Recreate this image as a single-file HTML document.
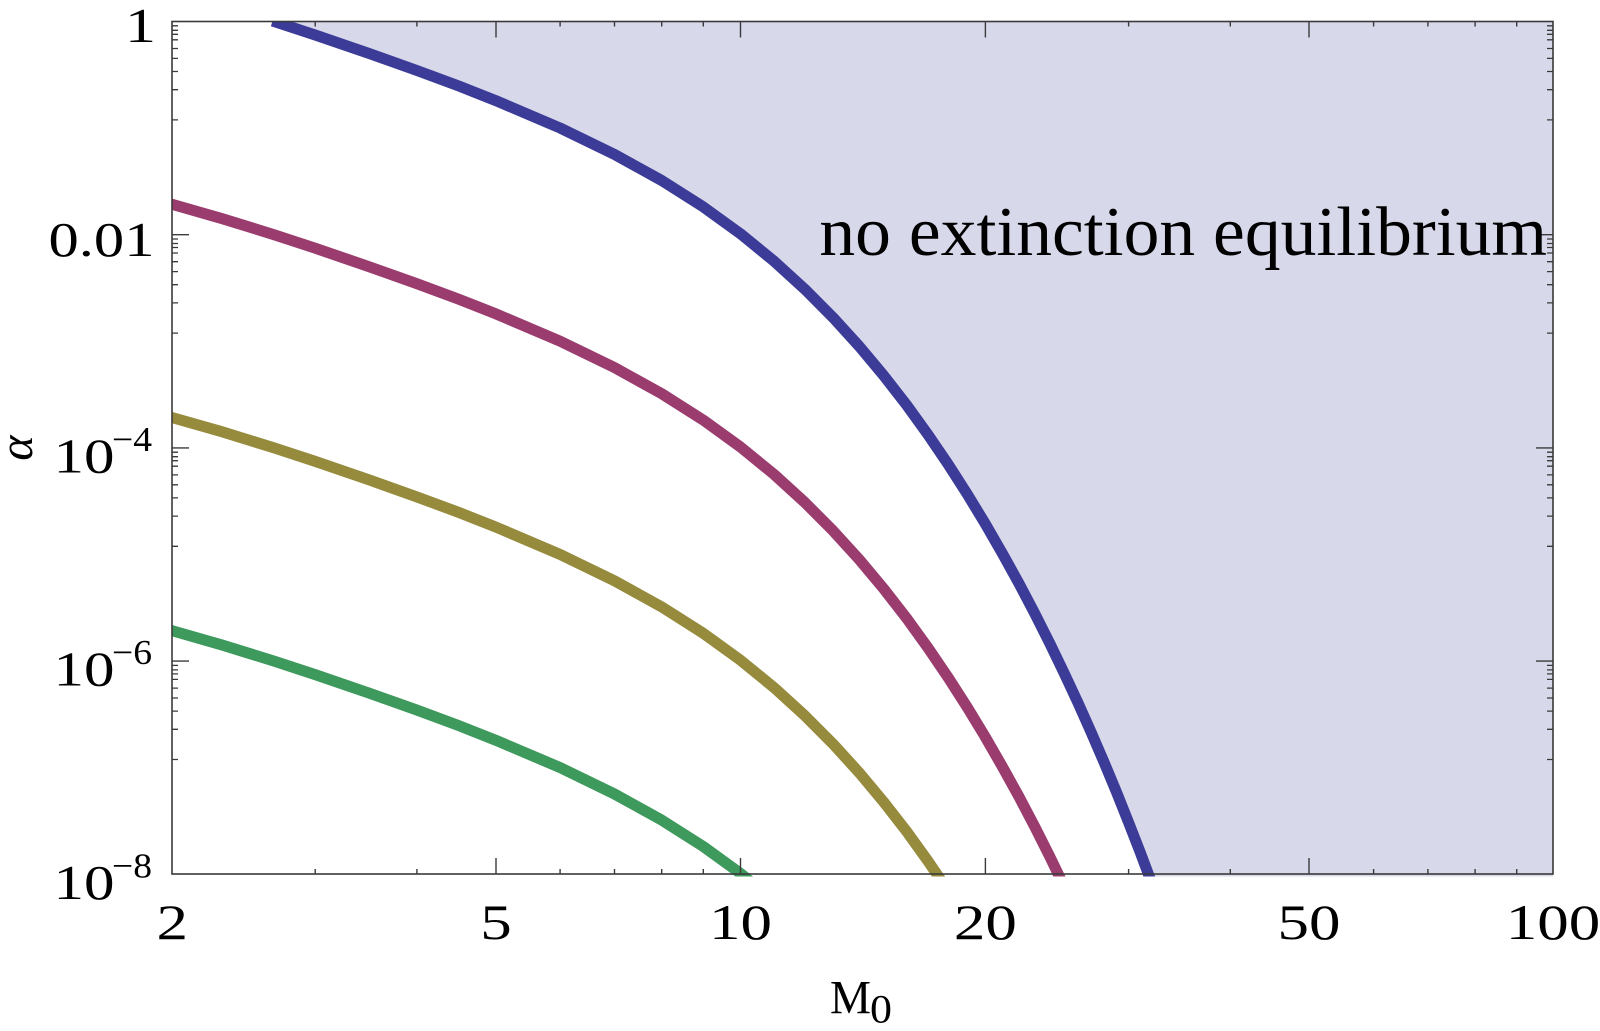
<!DOCTYPE html>
<html>
<head>
<meta charset="utf-8">
<style>
html,body{margin:0;padding:0;background:#fff;width:1600px;height:1031px;overflow:hidden;}
svg{display:block;overflow:hidden;}
text{font-family:"Liberation Serif","Times New Roman",serif;fill:#000;}
</style>
</head>
<body>
<svg width="1600" height="1031" viewBox="0 0 1600 1031" xmlns="http://www.w3.org/2000/svg">
<defs>
<clipPath id="pa"><rect x="172" y="21.5" width="1381" height="855"/></clipPath>
</defs>
<rect x="0" y="0" width="1600" height="1031" fill="#fff"/>

<g clip-path="url(#pa)">
  <!-- shaded region -->
  <polygon fill="rgb(216,216,235)" points="272.5,21 274.1,21.5 315.2,35.0 369.7,53.7 416.9,70.5 458.5,85.9 495.7,100.6 560.1,128.0 614.5,154.4 661.7,180.5 703.3,206.9 740.5,233.8 774.2,261.3 804.9,289.3 833.2,317.7 859.4,346.5 883.8,375.7 906.6,405.0 928.0,434.7 948.2,464.4 967.3,494.2 985.4,524.0 1002.6,553.9 1019.1,583.7 1034.8,613.6 1049.8,643.4 1064.2,673.3 1078.1,703.1 1091.4,732.9 1104.3,762.8 1116.7,792.6 1128.6,822.5 1140.2,852.3 1151.4,882.2 1162.3,912.0 1172.8,941.9 1600,941.9 1600,-20 272.5,-20"/>

  <g fill="none" stroke-width="11" stroke-linejoin="round" stroke-linecap="butt">
    <!-- green -->
    <polyline transform="translate(0,639.6)" stroke="rgb(61,153,92)" points="150,-15.1 172,-8.9 221.4,5.2 274.1,21.5 315.2,35.0 369.7,53.7 416.9,70.5 458.5,85.9 495.7,100.6 560.1,128.0 614.5,154.4 661.7,180.5 703.3,206.9 740.5,233.8 774.2,261.3"/>
    <!-- olive -->
    <polyline transform="translate(0,426.4)" stroke="rgb(150,138,60)" points="150,-15.1 172,-8.9 221.4,5.2 274.1,21.5 315.2,35.0 369.7,53.7 416.9,70.5 458.5,85.9 495.7,100.6 560.1,128.0 614.5,154.4 661.7,180.5 703.3,206.9 740.5,233.8 774.2,261.3 804.9,289.3 833.2,317.7 859.4,346.5 883.8,375.7 906.6,405.0 928.0,434.7 948.2,464.4 967.3,494.2"/>
    <!-- magenta -->
    <polyline transform="translate(0,213.2)" stroke="rgb(155,60,110)" points="150,-15.1 172,-8.9 221.4,5.2 274.1,21.5 315.2,35.0 369.7,53.7 416.9,70.5 458.5,85.9 495.7,100.6 560.1,128.0 614.5,154.4 661.7,180.5 703.3,206.9 740.5,233.8 774.2,261.3 804.9,289.3 833.2,317.7 859.4,346.5 883.8,375.7 906.6,405.0 928.0,434.7 948.2,464.4 967.3,494.2 985.4,524.0 1002.6,553.9 1019.1,583.7 1034.8,613.6 1049.8,643.4 1064.2,673.3 1078.1,703.1"/>
    <!-- blue -->
    <polyline stroke="rgb(60,60,152)" points="272.5,21 274.1,21.5 315.2,35.0 369.7,53.7 416.9,70.5 458.5,85.9 495.7,100.6 560.1,128.0 614.5,154.4 661.7,180.5 703.3,206.9 740.5,233.8 774.2,261.3 804.9,289.3 833.2,317.7 859.4,346.5 883.8,375.7 906.6,405.0 928.0,434.7 948.2,464.4 967.3,494.2 985.4,524.0 1002.6,553.9 1019.1,583.7 1034.8,613.6 1049.8,643.4 1064.2,673.3 1078.1,703.1 1091.4,732.9 1104.3,762.8 1116.7,792.6 1128.6,822.5 1140.2,852.3 1151.4,882.2 1162.3,912.0"/>
  </g>
</g>

<!-- frame -->
<rect x="172" y="21.5" width="1381" height="852.5" fill="none" stroke="#3a3a3a" stroke-width="1.6"/>

<!-- x ticks -->
<g stroke="#3a3a3a" stroke-width="1.4">
  <line x1="496" y1="874" x2="496" y2="858"/>
  <line x1="740.5" y1="874" x2="740.5" y2="858"/>
  <line x1="985.4" y1="874" x2="985.4" y2="858"/>
  <line x1="1309" y1="874" x2="1309" y2="858"/>
  <line x1="315.2" y1="874" x2="315.2" y2="869"/>
  <line x1="416.9" y1="874" x2="416.9" y2="869"/>
  <line x1="560.1" y1="874" x2="560.1" y2="869"/>
  <line x1="614.5" y1="874" x2="614.5" y2="869"/>
  <line x1="661.7" y1="874" x2="661.7" y2="869"/>
  <line x1="703.3" y1="874" x2="703.3" y2="869"/>
  <line x1="1128.6" y1="874" x2="1128.6" y2="869"/>
  <line x1="1230.3" y1="874" x2="1230.3" y2="869"/>
  <line x1="1373.6" y1="874" x2="1373.6" y2="869"/>
  <line x1="1427.9" y1="874" x2="1427.9" y2="869"/>
  <line x1="1475.1" y1="874" x2="1475.1" y2="869"/>
  <line x1="1516.7" y1="874" x2="1516.7" y2="869"/>
  <line x1="496" y1="21.5" x2="496" y2="37.5"/>
  <line x1="740.5" y1="21.5" x2="740.5" y2="37.5"/>
  <line x1="985.4" y1="21.5" x2="985.4" y2="37.5"/>
  <line x1="1309" y1="21.5" x2="1309" y2="37.5"/>
  <line x1="315.2" y1="21.5" x2="315.2" y2="26.5"/>
  <line x1="416.9" y1="21.5" x2="416.9" y2="26.5"/>
  <line x1="560.1" y1="21.5" x2="560.1" y2="26.5"/>
  <line x1="614.5" y1="21.5" x2="614.5" y2="26.5"/>
  <line x1="661.7" y1="21.5" x2="661.7" y2="26.5"/>
  <line x1="703.3" y1="21.5" x2="703.3" y2="26.5"/>
  <line x1="1128.6" y1="21.5" x2="1128.6" y2="26.5"/>
  <line x1="1230.3" y1="21.5" x2="1230.3" y2="26.5"/>
  <line x1="1373.6" y1="21.5" x2="1373.6" y2="26.5"/>
  <line x1="1427.9" y1="21.5" x2="1427.9" y2="26.5"/>
  <line x1="1475.1" y1="21.5" x2="1475.1" y2="26.5"/>
  <line x1="1516.7" y1="21.5" x2="1516.7" y2="26.5"/>
</g>

<!-- y ticks (left & right) -->
<g stroke="#3a3a3a" stroke-width="1.4">
  <line x1="172" y1="234.7" x2="189" y2="234.7"/>
  <line x1="172" y1="447.9" x2="189" y2="447.9"/>
  <line x1="172" y1="661.1" x2="189" y2="661.1"/>
  <line x1="1553" y1="234.7" x2="1536" y2="234.7"/>
  <line x1="1553" y1="447.9" x2="1536" y2="447.9"/>
  <line x1="1553" y1="661.1" x2="1536" y2="661.1"/>
</g>
<g stroke="#3a3a3a" stroke-width="1.3" fill="none">
  <path d="M172 25.8h6M172 30.3h6M172 34.3h6M172 39.8h6M172 48.5h6M172 58.4h6M172 71.5h6M172 89.7h6M172 119.9h6
           M1553 25.8h-6M1553 30.3h-6M1553 34.3h-6M1553 39.8h-6M1553 48.5h-6M1553 58.4h-6M1553 71.5h-6M1553 89.7h-6M1553 119.9h-6"/>
  <path d="M172 239h6M172 243.5h6M172 247.5h6M172 253h6M172 261.7h6M172 271.6h6M172 284.7h6M172 302.9h6M172 333.1h6
           M1553 239h-6M1553 243.5h-6M1553 247.5h-6M1553 253h-6M1553 261.7h-6M1553 271.6h-6M1553 284.7h-6M1553 302.9h-6M1553 333.1h-6"/>
  <path d="M172 452.2h6M172 456.7h6M172 460.7h6M172 466.2h6M172 474.9h6M172 484.8h6M172 497.9h6M172 516.1h6M172 546.3h6
           M1553 452.2h-6M1553 456.7h-6M1553 460.7h-6M1553 466.2h-6M1553 474.9h-6M1553 484.8h-6M1553 497.9h-6M1553 516.1h-6M1553 546.3h-6"/>
  <path d="M172 665.4h6M172 669.9h6M172 673.9h6M172 679.4h6M172 688.1h6M172 698h6M172 711.1h6M172 729.3h6M172 759.5h6
           M1553 665.4h-6M1553 669.9h-6M1553 673.9h-6M1553 679.4h-6M1553 688.1h-6M1553 698h-6M1553 711.1h-6M1553 729.3h-6M1553 759.5h-6"/>
</g>

<!-- x tick labels -->
<g font-size="50">
  <text x="156.5" y="939" textLength="31.5" lengthAdjust="spacingAndGlyphs">2</text>
  <text x="480.3" y="939" textLength="31.5" lengthAdjust="spacingAndGlyphs">5</text>
  <text x="709" y="939" textLength="63" lengthAdjust="spacingAndGlyphs">10</text>
  <text x="953.9" y="939" textLength="63" lengthAdjust="spacingAndGlyphs">20</text>
  <text x="1277.5" y="939" textLength="63" lengthAdjust="spacingAndGlyphs">50</text>
  <text x="1505.8" y="939" textLength="94.5" lengthAdjust="spacingAndGlyphs">100</text>
</g>

<!-- y tick labels -->
<g font-size="49">
  <text x="125" y="42" textLength="31" lengthAdjust="spacingAndGlyphs">1</text>
  <text x="48.5" y="256" textLength="106" lengthAdjust="spacingAndGlyphs">0.01</text>
  <text x="53.5" y="472.4" textLength="61" lengthAdjust="spacingAndGlyphs">10</text>
  <text x="53.5" y="685.6" textLength="61" lengthAdjust="spacingAndGlyphs">10</text>
  <text x="53.5" y="898.8" textLength="61" lengthAdjust="spacingAndGlyphs">10</text>
</g>
<g font-size="35">
  <text x="112" y="450.9" textLength="40" lengthAdjust="spacingAndGlyphs">−4</text>
  <text x="112" y="664.1" textLength="40" lengthAdjust="spacingAndGlyphs">−6</text>
  <text x="112" y="877.3" textLength="40" lengthAdjust="spacingAndGlyphs">−8</text>
</g>

<!-- annotation -->
<text x="819.4" y="255" font-size="70" textLength="727.7" lengthAdjust="spacingAndGlyphs">no extinction equilibrium</text>

<!-- axis labels -->
<text transform="translate(32,448) rotate(-90)" text-anchor="middle" font-size="48" font-style="italic">α</text>
<text x="830" y="1013.3" font-size="48" textLength="41" lengthAdjust="spacingAndGlyphs">M</text>
<text x="870" y="1022.3" font-size="40" textLength="22" lengthAdjust="spacingAndGlyphs">0</text>
</svg>
</body>
</html>
